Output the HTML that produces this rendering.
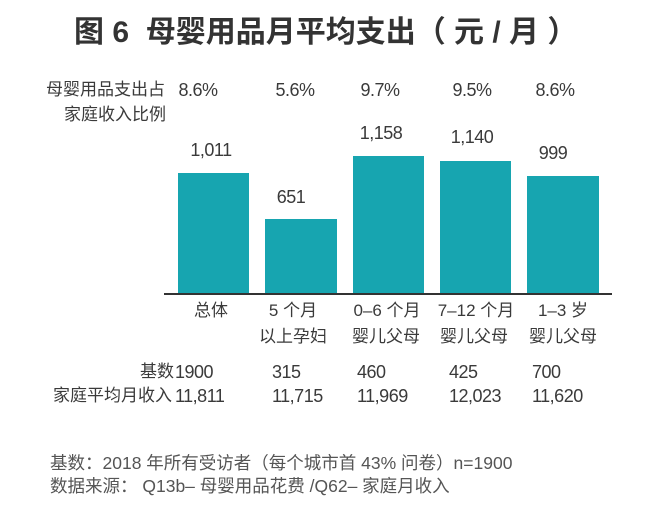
<!DOCTYPE html>
<html><head><meta charset="utf-8"><style>
body{margin:0;width:663px;height:506px;background:#fff;position:relative;overflow:hidden;font-family:"Liberation Sans","Noto Sans CJK SC",sans-serif;color:#3a3a3a}
div{position:absolute;white-space:nowrap}
.t{font-size:17px;line-height:20px;transform:translateY(-50%)}
.n{font-size:18px;line-height:20px;transform:translateY(-50%);letter-spacing:-0.5px}
.c{transform:translate(-50%,-50%);text-align:center}
.b{background:#17a5b0;position:absolute}
</style></head><body>
<div style="left:74px;top:15px;font-size:30px;font-weight:bold;color:#333;line-height:36px">图 6 &nbsp;母婴用品月平均支出（ 元 / 月 ）</div>
<div class="t" style="left:46px;top:90px">母婴用品支出占</div>
<div class="t" style="left:64px;top:115px">家庭收入比例</div>
<div class="n c" style="left:198px;top:90px">8.6%</div>
<div class="n c" style="left:295px;top:90px">5.6%</div>
<div class="n c" style="left:380px;top:90px">9.7%</div>
<div class="n c" style="left:472px;top:90px">9.5%</div>
<div class="n c" style="left:555px;top:90px">8.6%</div>

<div class="b" style="left:178px;top:173px;width:71px;height:121px"></div>
<div class="b" style="left:265px;top:219px;width:72px;height:75px"></div>
<div class="b" style="left:353px;top:156px;width:71px;height:138px"></div>
<div class="b" style="left:440px;top:161px;width:71px;height:133px"></div>
<div class="b" style="left:527px;top:176px;width:72px;height:118px"></div>
<div style="left:164px;top:293px;width:448px;height:2px;background:#333"></div>

<div class="n c" style="left:211px;top:150px">1,011</div>
<div class="n c" style="left:291px;top:197px">651</div>
<div class="n c" style="left:381px;top:133px">1,158</div>
<div class="n c" style="left:472px;top:137px">1,140</div>
<div class="n c" style="left:553px;top:153px">999</div>

<div class="t c" style="left:211px;top:311px">总体</div>
<div class="t c" style="left:293px;top:311px">5 个月</div>
<div class="t c" style="left:293px;top:337px">以上孕妇</div>
<div class="t c" style="left:387px;top:311px">0–6 个月</div>
<div class="t c" style="left:386px;top:337px">婴儿父母</div>
<div class="t c" style="left:476px;top:311px">7–12 个月</div>
<div class="t c" style="left:474px;top:337px">婴儿父母</div>
<div class="t c" style="left:563px;top:311px">1–3 岁</div>
<div class="t c" style="left:563px;top:337px">婴儿父母</div>

<div class="t" style="left:140px;top:372px">基数</div>
<div class="n" style="left:175px;top:372px">1900</div>
<div class="n" style="left:272px;top:372px">315</div>
<div class="n" style="left:357px;top:372px">460</div>
<div class="n" style="left:449px;top:372px">425</div>
<div class="n" style="left:532px;top:372px">700</div>
<div class="t" style="left:53px;top:396px">家庭平均月收入</div>
<div class="n" style="left:175px;top:396px">11,811</div>
<div class="n" style="left:272px;top:396px">11,715</div>
<div class="n" style="left:357px;top:396px">11,969</div>
<div class="n" style="left:449px;top:396px">12,023</div>
<div class="n" style="left:532px;top:396px">11,620</div>

<div class="t" style="left:50px;top:463px;color:#555;font-size:17.5px">基数：2018 年所有受访者（每个城市首 43% 问卷）n=1900</div>
<div class="t" style="left:50px;top:486px;color:#555;font-size:17.5px">数据来源： Q13b– 母婴用品花费 /Q62– 家庭月收入</div>
</body></html>
